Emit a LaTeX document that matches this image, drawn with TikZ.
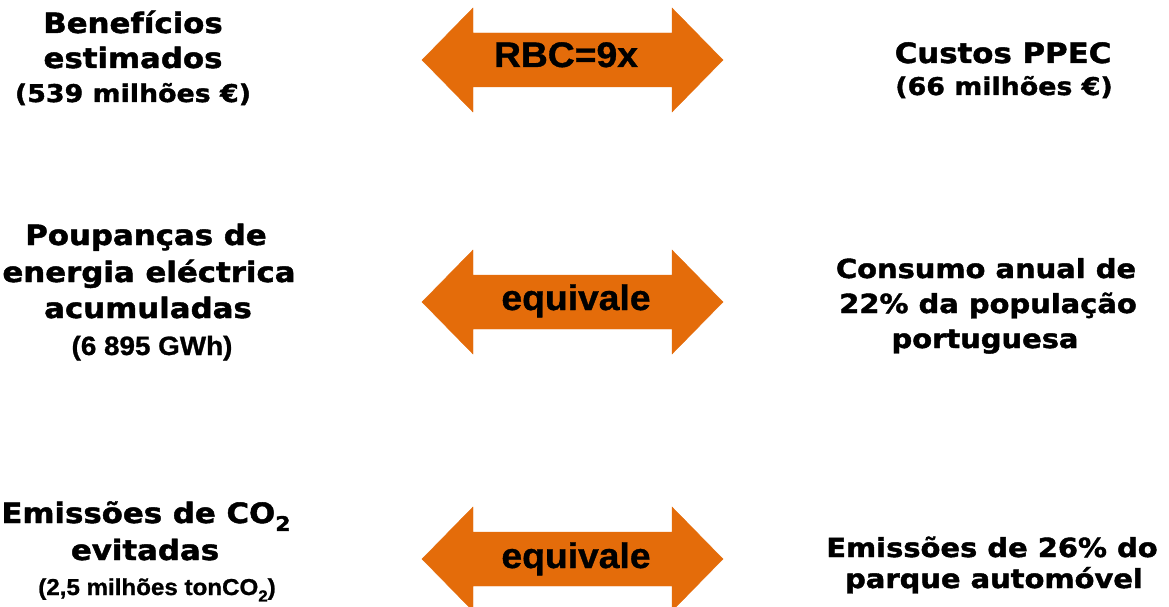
\documentclass[tikz,border=0pt]{standalone}
\usepackage{fontspec}
\newfontfamily\verd[FakeStretch=1.1,FakeBold=1.6]{DejaVu Sans}
\newfontfamily\arl[FakeStretch=1.05,FakeBold=1.0]{Liberation Sans}
\definecolor{arrowor}{HTML}{E46C0A}
\newcommand{\subtwo}[1]{\raisebox{-0.28em}{\fontsize{#1}{#1}\selectfont 2}}
\tikzset{
  ln/.style={anchor=base, inner sep=0pt, text=black},
  vL/.style={ln, font={\verd\bfseries\fontsize{28pt}{33pt}\selectfont}},
  vR/.style={ln, font={\verd\bfseries\fontsize{26.3pt}{31pt}\selectfont}},
  vS/.style={ln, font={\verd\bfseries\fontsize{24.4pt}{29pt}\selectfont}},
  aM/.style={ln, font={\arl\bfseries\fontsize{26.5pt}{30pt}\selectfont}},
  aS/.style={ln, font={\arl\bfseries\fontsize{23pt}{26pt}\selectfont}},
  aB/.style={ln, font={\arl\bfseries\fontsize{35.5pt}{40pt}\selectfont}},
  dblarrow/.style={fill=arrowor, draw=arrowor, line width=0.4pt},
}
\begin{document}
\begin{tikzpicture}[x=1pt,y=-1pt]
\clip (0,0) rectangle (1169,607);
\fill[white] (0,0) rectangle (1169,607);

% double arrows
\foreach \c/\nm in {60/arA, 302/arB, 559/arC}{
  \path[dblarrow] (422,\c) -- (473,\c-52) -- (473,\c-27) -- (672,\c-27) -- (672,\c-52)
    -- (723,\c) -- (672,\c+52) -- (672,\c+27) -- (473,\c+27) -- (473,\c+52) -- cycle;
  \coordinate (\nm) at (572.5,\c);
}
\node[aB] (rbc) at (566,67) {RBC=9x};
\node[aB] (eq1) at (576,310) {equivale};
\node[aB] (eq2) at (576,568) {equivale};

% row 1
\node[vL] (b1) at (133,33) {Benefícios};
\node[vL] (b2) at (133,68) {estimados};
\node[vS] (b3) at (133,102) {(539 milhões €)};
\node[vL] (c1) at (1003,63) {Custos PPEC};
\node[vS] (c2) at (1004,95) {(66 milhões €)};

% row 2
\node[vL] (p1) at (146,245) {Poupanças de};
\node[vL] (p2) at (149,282) {energia eléctrica};
\node[vL] (p3) at (148,318) {acumuladas};
\node[aM] (p4) at (152,355) {(6 895 GWh)};
\node[vR] (k1) at (986,278) {Consumo anual de};
\node[vR] (k2) at (988,313) {22\% da população};
\node[vR] (k3) at (985,348) {portuguesa};

% row 3
\node[vL] (e1) at (146,523) {Emissões de CO\subtwo{20pt}};
\node[vL] (e2) at (145,560) {evitadas};
\node[aS] (e3) at (157,595) {(2,5 milhões tonCO\subtwo{16pt})};
\node[vR] (m1) at (992,557) {Emissões de 26\% do};
\node[vR] (m2) at (994,588) {parque automóvel};
\end{tikzpicture}
\end{document}
